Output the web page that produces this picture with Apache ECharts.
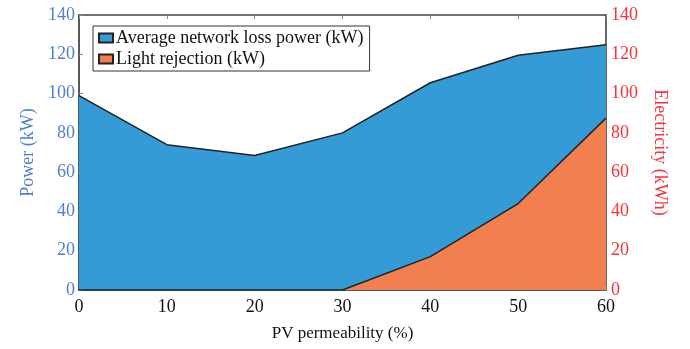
<!DOCTYPE html>
<html>
<head>
<meta charset="utf-8">
<script src="https://cdn.jsdelivr.net/npm/echarts@6/dist/echarts.min.js"></script>
<style>
  html, body { margin: 0; padding: 0; background: #fff; }
  #chart { width: 690px; height: 349px; }
</style>
</head>
<body>
<div id="chart"></div>
<script>
  // PV penetration steps (%)
  var permeability = [0, 10, 20, 30, 40, 50, 60];
  // average network loss power (kW), left axis
  var lossPower = [99, 74, 68.5, 80, 105.5, 119.5, 124.8];
  // light rejection, right axis
  var rejection = [0, 0, 0, 0, 17, 44, 87.5];

  var serif = 'Liberation Serif';
  var blueText = '#4f7fcb';
  var redText = '#f7323a';

  function pairs(ys) {
    return permeability.map(function (x, i) { return [x, ys[i]]; });
  }

  var chart = echarts.init(document.getElementById('chart'));
  var option = {
    animation: false,
    backgroundColor: '#fff',
    grid: { left: 79, right: 84, top: 15, bottom: 59, containLabel: false },
    legend: {
      orient: 'vertical',
      left: 93,
      top: 26,
      padding: [3, 6, 3, 5],
      itemGap: 3,
      itemWidth: 14,
      itemHeight: 9,
      backgroundColor: '#fff',
      borderColor: '#333',
      borderWidth: 1,
      borderRadius: 0,
      icon: 'rect',
      textStyle: { fontFamily: serif, fontSize: 18, color: '#111', padding: [0, 0, 0, -2] },
      data: ['Average network loss power (kW)', 'Light rejection (kW)']
    },
    xAxis: [{
      type: 'value',
      min: 0, max: 60, interval: 10,
      name: 'PV permeability (%)',
      nameLocation: 'middle',
      nameGap: 35,
      nameTextStyle: { fontFamily: serif, fontSize: 17, color: '#111' },
      axisLine: { onZero: false, lineStyle: { color: '#222', width: 1.5 } },
      axisTick: { inside: true, length: 4, lineStyle: { color: '#888' } },
      axisLabel: { fontFamily: serif, fontSize: 18, color: '#111', margin: 8 },
      splitLine: { show: false }
    }, {
      type: 'value',
      position: 'top',
      min: 0, max: 60, interval: 10,
      axisLine: { onZero: false, lineStyle: { color: '#444', width: 1.5 } },
      axisTick: { inside: true, length: 4, lineStyle: { color: '#888' } },
      axisLabel: { show: false },
      splitLine: { show: false }
    }],
    yAxis: [{
      type: 'value',
      min: 0, max: 140, interval: 20,
      name: 'Power (kW)',
      nameLocation: 'middle',
      nameGap: 42,
      nameTextStyle: { fontFamily: serif, fontSize: 18, color: blueText },
      axisLine: { show: true, onZero: false, lineStyle: { color: '#222', width: 1.5 } },
      axisTick: { show: true, inside: true, length: 4, lineStyle: { color: '#888' } },
      axisLabel: { fontFamily: serif, fontSize: 18, color: blueText, margin: 4 },
      splitLine: { show: false }
    }, {
      type: 'value',
      position: 'right',
      min: 0, max: 140, interval: 20,
      name: 'Electricity (kWh)',
      nameLocation: 'middle',
      nameGap: 45,
      nameRotate: -90,
      nameTextStyle: { fontFamily: serif, fontSize: 18, color: redText },
      axisLine: { show: true, onZero: false, lineStyle: { color: '#333', width: 1.5 } },
      axisTick: { show: true, inside: true, length: 4, lineStyle: { color: '#666' } },
      axisLabel: { fontFamily: serif, fontSize: 18, color: redText, margin: 5 },
      splitLine: { show: false }
    }],
    series: [{
      name: 'Average network loss power (kW)',
      type: 'line',
      xAxisIndex: 0,
      yAxisIndex: 0,
      data: pairs(lossPower),
      showSymbol: false,
      symbol: 'none',
      lineStyle: { color: '#222', width: 1.5 },
      itemStyle: { color: '#349bd6', borderColor: '#222', borderWidth: 1.5 },
      areaStyle: { color: '#349bd6', opacity: 1 },
      z: 2
    }, {
      name: 'Light rejection (kW)',
      type: 'line',
      xAxisIndex: 0,
      yAxisIndex: 1,
      data: pairs(rejection),
      showSymbol: false,
      symbol: 'none',
      lineStyle: { color: '#222', width: 1.5 },
      itemStyle: { color: '#f27f4f', borderColor: '#222', borderWidth: 1.5 },
      areaStyle: { color: '#f27f4f', opacity: 1 },
      z: 3
    }]
  };
  chart.setOption(option);
</script>
</body>
</html>
